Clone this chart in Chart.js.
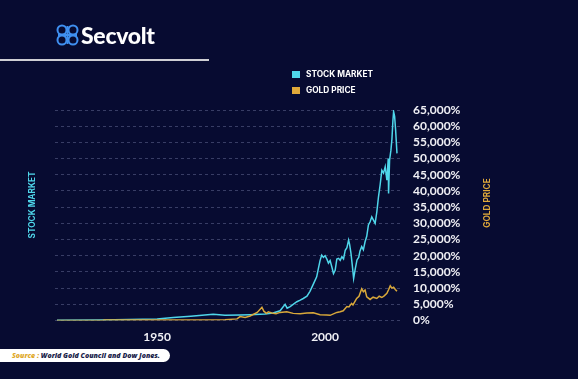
<!DOCTYPE html>
<html><head><meta charset="utf-8">
<script src="https://cdn.jsdelivr.net/npm/chart.js@4.4.1/dist/chart.umd.min.js"></script>
<style>
html,body{margin:0;padding:0;background:#070b31;width:578px;height:379px;overflow:hidden}
#wrap{position:relative;width:578px;height:379px;background:#070b31}
#c{position:absolute;left:0;top:0}
.logo{position:absolute;left:55px;top:22px;height:26px;display:flex;align-items:center}
.logo span{font-family:Lato,"Open Sans",sans-serif;font-weight:900;color:#fff;font-size:23px;letter-spacing:-0.3px;margin-left:1px;line-height:26px}
.rule{position:absolute;left:0;top:59px;width:209px;height:2px;background:#cfcfd4}
.legend{position:absolute;left:292px;top:66px;font-family:Inter,Lato,sans-serif;font-weight:700;font-size:8.3px;color:#fff;line-height:16px}
.legend div{display:flex;align-items:center;height:16px}
.legend i{display:inline-block;width:8px;height:7px;margin-right:6px}
.src{position:absolute;left:0;top:349px;width:170px;height:13px;background:#fff;border-radius:0 7px 7px 0;font-family:"Open Sans",Lato,sans-serif;font-weight:800;font-style:italic;font-size:7px;line-height:13px;color:#1a1d4a;padding-left:12px;box-sizing:border-box;white-space:nowrap}
.src b{color:#e0a92c}
</style></head>
<body><div id="wrap">
<canvas id="c" width="578" height="379"></canvas>
<div class="logo">
<svg width="25" height="22" viewBox="0 0 25 22">
<g fill="none" stroke="#3f8ff0" stroke-width="2">
<circle cx="7" cy="6" r="4.5"/><circle cx="18" cy="6" r="4.5"/>
<circle cx="7" cy="16" r="4.5"/><circle cx="18" cy="16" r="4.5"/>
<path d="M12.5 2 V20 M3 11 H22"/>
</g></svg>
<span>Secvolt</span></div>
<div class="rule"></div>
<div class="legend">
<div><i style="background:#4fd6ea"></i>STOCK MARKET</div>
<div><i style="background:#e0a93a"></i>GOLD PRICE</div>
</div>
<div class="src"><b>Source : </b>World Gold Council and Dow Jones.</div>
</div>
<script>
const stockYears = [1920.2,1933,1950,1954.8,1960,1966.7,1970.2,1974.7,1977.7,1982.1,1984.5,1986.6,1988.1,1988.7,1989.6,1991.6,1992.6,1993.5,1994.6,1995.5,1996.4,1997.5,1998,1998.5,1999,1999.5,2000,2000.6,2001,2001.5,2002,2002.5,2003,2003.5,2004,2004.5,2005,2005.5,2006,2006.5,2007,2007.3,2007.7,2008.1,2008.5,2009,2009.5,2010,2010.4,2010.9,2011.4,2011.9,2012.4,2012.9,2013.4,2013.9,2014.4,2014.9,2015.4,2015.9,2016.4,2016.9,2017.4,2017.9,2018.4,2018.8,2018.9,2019.2,2019.6,2019.9,2020.2,2020.4,2020.7,2021,2021.4];
const stockValues = [100,150,500,900,1300,1900,1600,1700,1800,2000,2300,3000,5000,3800,4300,5800,6300,6800,7500,9000,11000,13500,16000,18500,20200,19500,20000,18800,17700,18500,16600,14500,15500,19000,19200,18600,19700,19000,21700,22500,24800,23500,20800,17000,13000,16000,18700,19500,21500,22800,21800,24300,26000,29500,30500,32000,31000,30000,33500,38200,42000,46400,45500,47500,43300,50000,39200,49500,52600,56000,61800,64500,63000,58800,51600];
const goldYears = [1920.2,1933.9,1934.2,1947.9,1962.8,1970.2,1973.8,1974.7,1976.2,1977.7,1979.8,1981.2,1981.8,1982.6,1983.1,1984.1,1985.4,1986.6,1988.6,1990.5,1992.6,1994.6,1996.5,1998.5,2000.5,2001.5,2003.5,2004.5,2005.4,2006.5,2007.1,2007.9,2008.3,2009.4,2010.1,2010.9,2011.4,2011.9,2012.4,2013.4,2014.3,2015.4,2016.1,2016.9,2017.6,2018.4,2018.9,2019.4,2019.9,2020.4,2020.9,2021.4];
const goldValues = [0,30,150,150,150,200,500,1200,900,1400,2500,4100,2800,2200,2700,2300,2100,2500,2700,2200,2100,2300,2400,1800,1700,1600,2500,2700,3000,4300,4200,5300,4800,6800,7500,9800,8900,9400,7300,6500,7200,6800,7500,7100,7600,8400,9500,10700,10000,10300,9600,9000];
const xTickYears = [1950, 2000];
const yMax = 65000, yStep = 5000;

const toPts = (xs, ys) => xs.map((x, i) => ({x, y: ys[i]}));

const titlePlugin = {
  id: 'sideTitles',
  afterDraw(chart) {
    const ctx = chart.ctx;
    const draw = (text, color, x, y) => {
      ctx.save();
      ctx.font = '700 8.3px Inter, Lato, sans-serif';
      ctx.textAlign = 'center';
      ctx.textBaseline = 'middle';
      ctx.fillStyle = color;
      ctx.translate(x, y); ctx.rotate(-Math.PI/2);
      ctx.fillText(text, 0, 0);
      ctx.restore();
    };
    draw('STOCK MARKET', '#4fd6ea', 33, 205);
    draw('GOLD PRICE', '#e0a93a', 488, 203);
  }
};

new Chart(document.getElementById('c'), {
  type: 'line',
  data: {
    datasets: [
      {label: 'GOLD PRICE', data: toPts(goldYears, goldValues), borderColor: '#d9a83a', borderWidth: 1.5, pointRadius: 0, tension: 0, order: 0},
      {label: 'STOCK MARKET', data: toPts(stockYears, stockValues), borderColor: '#4fd6ea', borderWidth: 1.5, pointRadius: 0, tension: 0, order: 1}
    ]
  },
  options: {
    responsive: false, animation: false,
    layout: {padding: {left: 55, right: 117, top: 110, bottom: 0}},
    plugins: {legend: {display: false}, tooltip: {enabled: false}},
    scales: {
      x: {
        type: 'linear', min: 1919.6, max: 2022.6,
        afterBuildTicks: s => { s.ticks = xTickYears.map(v => ({value: v})); },
        afterFit: s => { s.height = 58.5; },
        grid: {display: false, drawTicks: false},
        border: {display: false},
        ticks: {color: '#f0f0f5', font: {family: 'Lato, sans-serif', weight: '700', size: 12}, padding: 9, maxRotation: 0, autoSkip: false, callback: v => String(v)}
      },
      y: {
        position: 'right', min: 0, max: yMax,
        afterFit: s => { s.width = 60; },
        grid: {color: 'rgba(150,155,200,0.35)', drawTicks: false, lineWidth: 1},
        border: {display: false, dash: [3, 3]},
        ticks: {stepSize: yStep, autoSkip: false, color: '#f0f0f5', padding: 12, font: {family: 'Lato, sans-serif', weight: '700', size: 12},
          callback: v => v.toLocaleString('en-US') + '%'}
      }
    }
  },
  plugins: [titlePlugin]
});
</script>
</body></html>
